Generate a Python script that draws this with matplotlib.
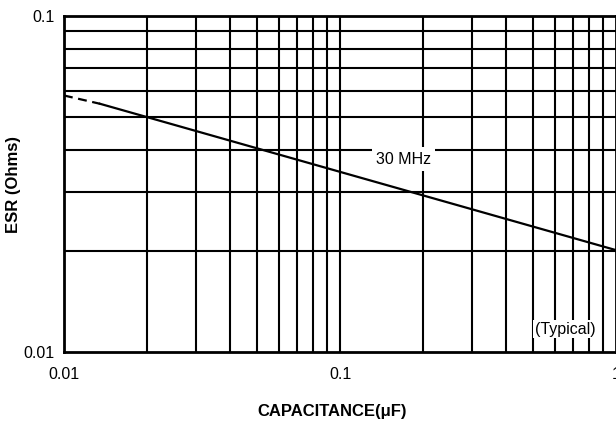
import matplotlib
matplotlib.use("Agg")
import matplotlib.pyplot as plt
import numpy as np

plt.rcParams['font.family'] = ['Liberation Sans', 'DejaVu Sans']

# data
cap_dashed = [0.01, 0.0135]
esr_dashed = [0.058, 0.0548]
cap_solid = [0.0135, 1.0]
esr_solid = [0.0548, 0.0201]
x_ticks = [0.01, 0.1, 1]
x_ticklabels = ["0.01", "0.1", "1"]
y_ticks = [0.01, 0.1]
y_ticklabels = ["0.01", "0.1"]

fig = plt.figure(figsize=(6.16, 4.26), dpi=100)
ax = fig.add_axes([64/616, 74/426, 552/616, 336/426])
ax.set_xscale('log')
ax.set_yscale('log')
ax.set_xlim(0.01, 1)
ax.set_ylim(0.01, 0.1)

# grid
for d in [0.01, 0.1]:
    for m in range(2, 10):
        ax.axvline(d*m, color='black', lw=1.5, zorder=1)
for m in range(2, 10):
    ax.axhline(0.01*m, color='black', lw=1.5, zorder=1)
ax.axvline(0.1, color='black', lw=1.5, zorder=1)

ax.plot(cap_dashed, esr_dashed, color='black', lw=1.6, ls=(0, (4, 2.5)), zorder=3)
ax.plot(cap_solid, esr_solid, color='black', lw=1.6, zorder=3)

for s in ax.spines.values():
    s.set_linewidth(2)
    s.set_color('black')

ax.set_xticks(x_ticks)
ax.set_xticklabels(x_ticklabels)
ax.set_yticks(y_ticks)
ax.set_yticklabels(y_ticklabels)
ax.minorticks_off()
ax.tick_params(axis='x', length=0, labelsize=11.5, pad=11)
ax.tick_params(axis='y', length=0, labelsize=11.5, pad=7)

ax.text(0.17, 0.0375, "30 MHz", fontsize=11.5, ha='center', va='center', zorder=4,
        bbox=dict(facecolor='white', edgecolor='none', pad=3))
ax.text(0.653, 0.0117, "(Typical)", fontsize=11.5, ha='center', va='center', zorder=4,
        bbox=dict(facecolor='white', edgecolor='none', pad=1))

ax.set_xlabel("CAPACITANCE(μF)", fontsize=12, fontweight='bold', va='center')
ax.xaxis.set_label_coords(0.486, -0.1756)
ax.set_ylabel("ESR (Ohms)", fontsize=12, fontweight='bold', va='center')
ax.yaxis.set_label_coords(-0.0906, 0.5)

fig.savefig("out.png", dpi=100)
